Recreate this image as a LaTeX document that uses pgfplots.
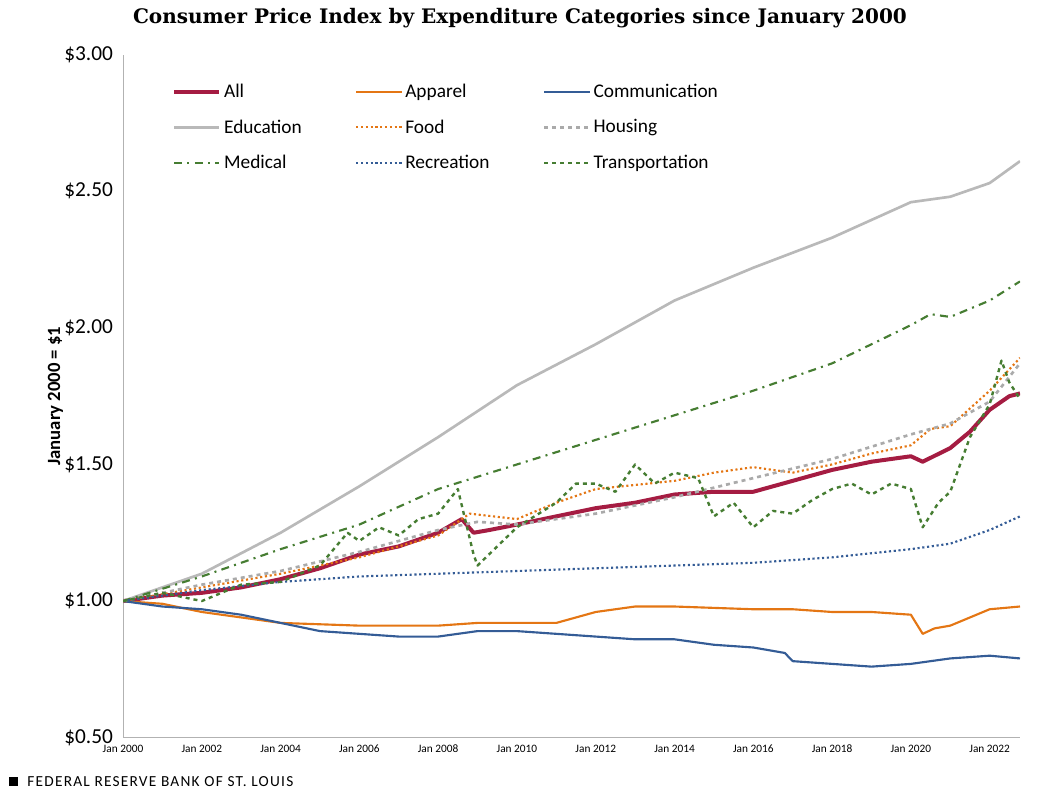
\documentclass[border=0pt]{standalone}
\usepackage{pgfplots}
\pgfplotsset{compat=1.18}
\usepackage{fontspec}
\setmainfont{Carlito}
\newfontfamily\titlefont{DejaVu Serif}
\newfontfamily\footfont[LetterSpace=8]{Carlito}
\definecolor{cAll}{RGB}{165,28,66}
\definecolor{cApp}{RGB}{228,118,20}
\definecolor{cCom}{RGB}{52,92,150}
\definecolor{cEdu}{RGB}{185,185,185}
\definecolor{cHou}{RGB}{170,170,170}
\definecolor{cGrn}{RGB}{70,125,50}
\begin{document}
\begin{tikzpicture}
\useasboundingbox (0,0) rectangle (780pt,593pt);
\node[anchor=north,font=\titlefont\bfseries\fontsize{15}{18}\selectfont] at (390pt,590pt) {Consumer Price Index by Expenditure Categories since January 2000};
\node[anchor=west,font=\footfont\fontsize{11.5}{13}\selectfont] at (3pt,7pt) {\rule{7pt}{7pt}\ \ FEDERAL RESERVE BANK OF ST. LOUIS};
\begin{axis}[
  at={(92.25pt,39.75pt)}, anchor=south west,
  scale only axis, width=672.75pt, height=512.25pt,
  xmin=2000, xmax=2022.77, ymin=0.5, ymax=3.0,
  axis x line*=bottom, axis y line*=left,
  axis line style={draw=black!30},
  major tick length=0pt,
  xtick={2000,2002,...,2022},
  xticklabels={Jan 2000,Jan 2002,Jan 2004,Jan 2006,Jan 2008,Jan 2010,Jan 2012,Jan 2014,Jan 2016,Jan 2018,Jan 2020,Jan 2022},
  x tick label style={font=\fontsize{8.5}{10}\selectfont, yshift=-2pt},
  ytick={0.5,1,1.5,2,2.5,3},
  yticklabels={\$0.50,\$1.00,\$1.50,\$2.00,\$2.50,\$3.00},
  y tick label style={font=\fontsize{16}{18}\selectfont, xshift=-4pt},
  ylabel={\bfseries January  2000 = \$1},
  ylabel style={font=\fontsize{14}{16}\selectfont, yshift=-6pt},
  legend columns=3,
  legend style={at={(0.05,0.965)}, anchor=north west, draw=none, fill=none,
    font=\fontsize{14.5}{16}\selectfont, row sep=11pt,
    /tikz/every even column/.append style={column sep=38pt}},
  legend cell align=left,
  legend image code/.code={\draw[#1] (0pt,0pt) -- (34pt,0pt);},
  line join=round,
]
\addplot[cAll, line width=3pt] coordinates {(2000,1.00)(2001,1.02)(2002,1.03)(2003,1.05)(2004,1.08)(2005,1.12)(2006,1.17)(2007,1.20)(2008,1.25)(2008.6,1.30)(2008.9,1.25)(2009.3,1.26)(2010,1.28)(2011,1.31)(2012,1.34)(2013,1.36)(2014,1.39)(2015,1.40)(2016,1.40)(2017,1.44)(2018,1.48)(2019,1.51)(2020,1.53)(2020.3,1.51)(2021,1.56)(2021.5,1.62)(2022,1.70)(2022.5,1.75)(2022.77,1.76)};
\addlegendentry{All}
\addplot[cApp, line width=1.6pt] coordinates {(2000,1.00)(2001,0.99)(2002,0.96)(2003,0.94)(2004,0.92)(2006,0.91)(2008,0.91)(2009,0.92)(2010,0.92)(2011,0.92)(2012,0.96)(2013,0.98)(2014,0.98)(2016,0.97)(2017,0.97)(2018,0.96)(2019,0.96)(2020,0.95)(2020.3,0.88)(2020.6,0.90)(2021,0.91)(2021.5,0.94)(2022,0.97)(2022.77,0.98)};
\addlegendentry{Apparel}
\addplot[cCom, line width=1.6pt] coordinates {(2000,1.00)(2001,0.98)(2002,0.97)(2003,0.95)(2004,0.92)(2005,0.89)(2006,0.88)(2007,0.87)(2008,0.87)(2009,0.89)(2010,0.89)(2011,0.88)(2012,0.87)(2013,0.86)(2014,0.86)(2015,0.84)(2016,0.83)(2016.8,0.81)(2017,0.78)(2018,0.77)(2019,0.76)(2020,0.77)(2020.5,0.78)(2021,0.79)(2022,0.80)(2022.77,0.79)};
\addlegendentry{Communication}
\addplot[cEdu, line width=2pt] coordinates {(2000,1.00)(2002,1.10)(2004,1.25)(2006,1.42)(2008,1.60)(2010,1.79)(2012,1.94)(2014,2.10)(2016,2.22)(2018,2.33)(2020,2.46)(2020.5,2.47)(2021,2.48)(2022,2.53)(2022.77,2.61)};
\addlegendentry{Education}
\addplot[cApp, line width=1.6pt, dotted] coordinates {(2000,1.00)(2002,1.05)(2004,1.10)(2006,1.16)(2008,1.24)(2008.8,1.32)(2010,1.30)(2011,1.36)(2012,1.41)(2014,1.44)(2015,1.47)(2016,1.49)(2017,1.47)(2018,1.50)(2019,1.54)(2020,1.57)(2020.5,1.63)(2021,1.64)(2022,1.77)(2022.77,1.89)};
\addlegendentry{Food}
\addplot[cHou, line width=2pt, dashed] coordinates {(2000,1.00)(2002,1.06)(2004,1.11)(2006,1.18)(2008,1.26)(2009,1.29)(2010,1.28)(2012,1.32)(2014,1.38)(2016,1.45)(2018,1.52)(2020,1.61)(2021,1.65)(2022,1.73)(2022.77,1.87)};
\addlegendentry{Housing}
\addplot[cGrn, line width=1.6pt, dash pattern=on 6pt off 4pt on 1.5pt off 4pt] coordinates {(2000,1.00)(2002,1.09)(2004,1.19)(2006,1.28)(2008,1.41)(2010,1.50)(2012,1.59)(2014,1.68)(2016,1.77)(2018,1.87)(2020,2.01)(2020.5,2.05)(2021,2.04)(2022,2.10)(2022.77,2.17)};
\addlegendentry{Medical}
\addplot[cCom, line width=1.6pt, dotted] coordinates {(2000,1.00)(2002,1.04)(2004,1.07)(2006,1.09)(2008,1.10)(2010,1.11)(2012,1.12)(2014,1.13)(2016,1.14)(2018,1.16)(2020,1.19)(2021,1.21)(2022,1.26)(2022.77,1.31)};
\addlegendentry{Recreation}
\addplot[cGrn, line width=1.8pt, dashed] coordinates {(2000,1.00)(2001,1.03)(2002,1.00)(2003,1.06)(2004,1.07)(2005,1.13)(2005.7,1.25)(2006,1.22)(2006.5,1.27)(2007,1.24)(2007.5,1.30)(2008,1.32)(2008.5,1.41)(2008.9,1.17)(2009,1.13)(2009.5,1.20)(2010,1.27)(2011,1.36)(2011.5,1.43)(2012,1.43)(2012.5,1.40)(2013,1.50)(2013.5,1.43)(2014,1.47)(2014.6,1.45)(2015,1.31)(2015.5,1.36)(2016,1.27)(2016.5,1.33)(2017,1.32)(2017.5,1.37)(2018,1.41)(2018.5,1.43)(2019,1.39)(2019.5,1.43)(2020,1.41)(2020.3,1.27)(2020.7,1.36)(2021,1.40)(2021.5,1.60)(2022,1.72)(2022.3,1.88)(2022.5,1.80)(2022.77,1.74)};
\addlegendentry{Transportation}
\end{axis}
\end{tikzpicture}
\end{document}
